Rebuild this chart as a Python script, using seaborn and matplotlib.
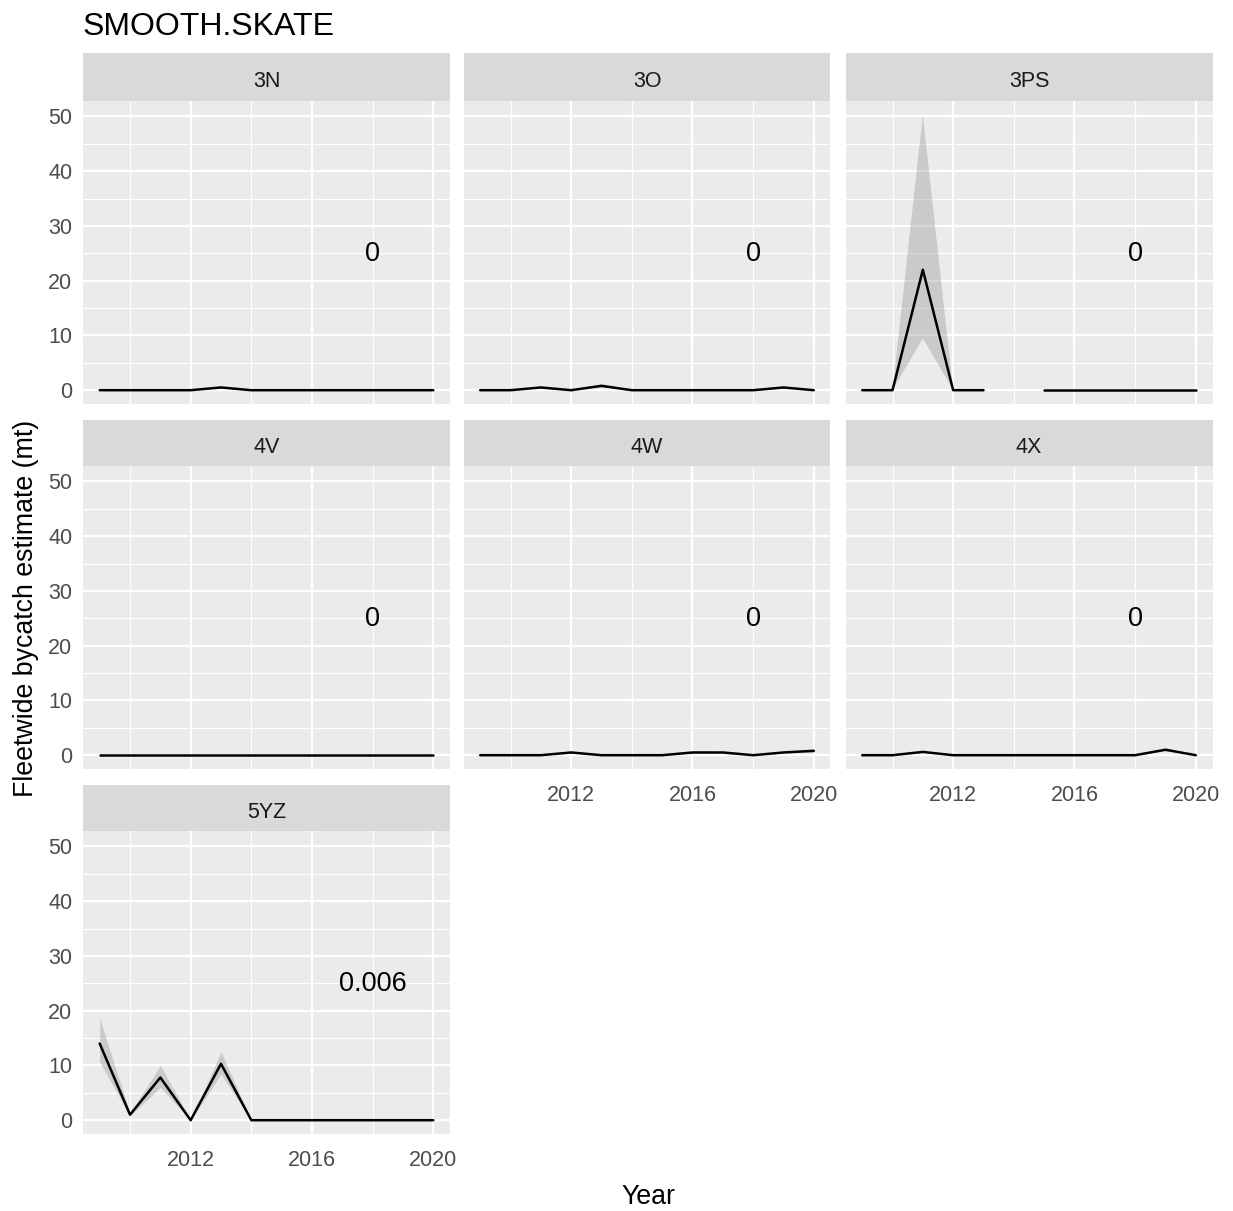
import numpy as np
import pandas as pd
import seaborn as sns
from matplotlib import pyplot as plt

# Dati: stima e intervallo per area, anni 2009-2020
years = list(range(2009, 2021))
areas = ["3N", "3O", "3PS", "4V", "4W", "4X", "5YZ"]
nan = np.nan

est = {
    "3N":  [0, 0, 0, 0, 0.5, 0, 0, 0, 0, 0, 0, 0],
    "3O":  [0, 0, 0.5, 0, 0.8, 0, 0, 0, 0, 0, 0.5, 0],
    "3PS": [0, 0, 22.0, 0, 0, nan, 0, 0, 0, 0, 0, 0],
    "4V":  [0, 0, 0, 0, 0, 0, 0, 0, 0, 0, 0, 0],
    "4W":  [0, 0, 0, 0.5, 0, 0, 0, 0.5, 0.5, 0, 0.5, 0.8],
    "4X":  [0, 0, 0.6, 0, 0, 0, 0, 0, 0, 0, 1.0, 0],
    "5YZ": [14.0, 1.0, 7.8, 0, 10.3, 0, 0, 0, 0, 0, 0, 0],
}
upper = {
    "3N":  [0, 0, 0, 0, 0.6, 0, 0, 0, 0, 0, 0, 0],
    "3O":  [0, 0, 0.6, 0, 1.2, 0, 0, 0, 0, 0, 0.6, 0],
    "3PS": [0, 0, 50.3, 0, 0, nan, 0, 0, 0, 0, 0, 0],
    "4V":  [0, 0, 0, 0, 0, 0, 0, 0, 0, 0, 0, 0],
    "4W":  [0, 0, 0, 0.6, 0, 0, 0, 0.6, 0.7, 0, 0.6, 1.2],
    "4X":  [0, 0, 0.7, 0, 0, 0, 0, 0, 0, 0, 1.3, 0],
    "5YZ": [18.6, 1.3, 10.0, 0, 12.5, 0, 0, 0, 0, 0, 0, 0],
}
lower = {
    "3N":  [0, 0, 0, 0, 0.4, 0, 0, 0, 0, 0, 0, 0],
    "3O":  [0, 0, 0.4, 0, 0.5, 0, 0, 0, 0, 0, 0.4, 0],
    "3PS": [0, 0, 9.5, 0, 0, nan, 0, 0, 0, 0, 0, 0],
    "4V":  [0, 0, 0, 0, 0, 0, 0, 0, 0, 0, 0, 0],
    "4W":  [0, 0, 0, 0.4, 0, 0, 0, 0.3, 0.3, 0, 0.4, 0.5],
    "4X":  [0, 0, 0.5, 0, 0, 0, 0, 0, 0, 0, 0.8, 0],
    "5YZ": [10.6, 0.8, 6.0, 0, 8.4, 0, 0, 0, 0, 0, 0, 0],
}
labels = {"3N": "0", "3O": "0", "3PS": "0", "4V": "0", "4W": "0", "4X": "0", "5YZ": "0.006"}

# Costruiamo un dataframe lungo; "seg" spezza la linea dove manca un anno
rows = []
for a in areas:
    seg = 0
    for i, y in enumerate(years):
        if np.isnan(est[a][i]):
            seg += 1
            continue
        rows.append({"area": a, "year": y, "est": est[a][i], "seg": seg})
df = pd.DataFrame(rows)

sns.set_theme(style="white")
plt.rcParams["font.family"] = ["Liberation Sans", "DejaVu Sans"]

W, H = 1233, 1211
fig = plt.figure(figsize=(W / 100, H / 100), dpi=100)

col_left = [83, 463.5, 845.5]
row_top = [100.5, 465.5, 830.5]
strip_h = [48, 46, 46]
pw, ph = 367, 303.5
bottom_of_col = {0: 2, 1: 1, 2: 1}

for k, a in enumerate(areas):
    r, c = divmod(k, 3)
    x0, y0 = col_left[c], row_top[r]
    ax = fig.add_axes([x0 / W, 1 - (y0 + ph) / H, pw / W, ph / H])
    ax.set_facecolor("#EBEBEB")

    ax.fill_between(years, lower[a], upper[a], color="#999999", alpha=0.4, lw=0)
    sns.lineplot(data=df[df["area"] == a], x="year", y="est", units="seg",
                 estimator=None, color="black", lw=1.8, ax=ax)
    ax.text(2018, 25.5, labels[a], ha="center", va="center_baseline",
            fontsize=19.5, color="black")

    ax.set_xlim(2008.45, 2020.55)
    ax.set_ylim(-2.52, 52.92)
    ax.set_xticks([2012, 2016, 2020])
    ax.set_xticks([2010, 2014, 2018], minor=True)
    ax.set_yticks(range(0, 51, 10))
    ax.set_yticks(range(5, 50, 10), minor=True)
    ax.grid(which="major", color="white", lw=1.6)
    ax.grid(which="minor", color="white", lw=0.8)
    ax.set_axisbelow(True)
    for s in ax.spines.values():
        s.set_visible(False)
    ax.set_xlabel("")
    ax.set_ylabel("")
    ax.tick_params(which="minor", length=0)
    ax.tick_params(which="major", length=4.8, width=1.1, color="#333333",
                   labelsize=15.5, labelcolor="#4D4D4D", pad=3)
    ax.tick_params(axis="x", pad=7)
    if c != 0:
        ax.tick_params(axis="y", length=0, labelleft=False)
    if r != bottom_of_col[c]:
        ax.tick_params(axis="x", length=0, labelbottom=False)

    # Striscia del facet, stile ggplot
    sh = strip_h[r]
    sax = fig.add_axes([x0 / W, 1 - y0 / H, pw / W, sh / H])
    sax.set_facecolor("#D9D9D9")
    sax.set_xticks([])
    sax.set_yticks([])
    for s in sax.spines.values():
        s.set_visible(False)
    sax.text(0.5, 0.5 - 5 / sh, a, ha="center", va="center", fontsize=15.5,
             color="#1A1A1A", transform=sax.transAxes)

fig.text(83 / W, 1 - 35 / H, "SMOOTH.SKATE", fontsize=23, color="black",
         ha="left", va="baseline")
fig.text(26 / W, 1 - 608 / H, "Fleetwide bycatch estimate (mt)", rotation=90,
         fontsize=19.3, ha="center", va="center", color="black")
fig.text(648 / W, 1 - 1197 / H, "Year", fontsize=19.3, ha="center",
         va="center", color="black")

fig.savefig("out.png", dpi=100)
